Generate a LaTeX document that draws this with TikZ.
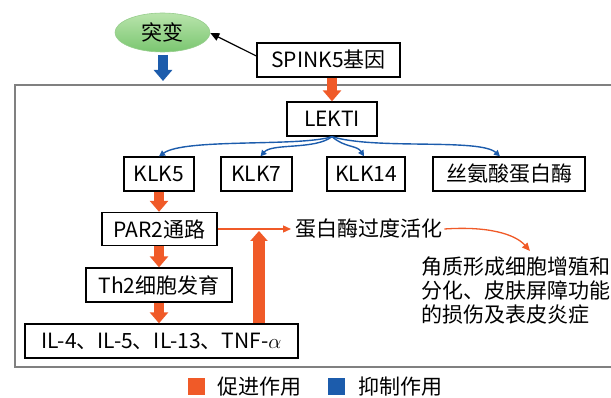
\documentclass[tikz,border=0pt]{standalone}
\usepackage{fontspec}
\setmainfont{Noto Sans CJK SC}
\usetikzlibrary{arrows.meta,shapes.geometric}
\definecolor{org}{RGB}{240,90,40}
\definecolor{blu}{RGB}{28,92,172}
\definecolor{frm}{RGB}{128,128,128}
\begin{document}
\begin{tikzpicture}[x=1pt,y=-1pt,
  every node/.style={font=\fontsize{21}{24}\selectfont},
  box/.style={draw, line width=1.3pt, minimum height=34pt, inner sep=0pt},
  fat/.style={line width=10pt, -{Triangle[length=11pt,width=18pt]}},
  thinorg/.style={org, line width=1.3pt, -{Triangle[length=8pt,width=7pt]}},
  thinblu/.style={blu, line width=1.4pt, -{Triangle[length=6pt,width=6pt]}}]
\useasboundingbox (0,0) rectangle (611,398);
\clip (0,0) rectangle (611,398);
% outer frame
\draw[frm, line width=1.5pt] (15,85) rectangle (680,367);
% nodes
\node[ellipse, minimum width=95pt, minimum height=39pt, inner sep=0pt,
      draw={rgb,255:red,150;green,205;blue,140}, line width=0.6pt,
      top color={rgb,255:red,185;green,228;blue,172},
      bottom color={rgb,255:red,122;green,198;blue,112}] (ell) at (162.5,32.5) {突变};
\node[box, minimum width=143pt] (spink) at (328.5,60) {SPINK5基因};
\node[box, minimum width=90pt] (lekti) at (332,119) {LEKTI};
\node[box, minimum width=70pt] (klk5) at (159,174) {KLK5};
\node[box, minimum width=71pt] (klk7) at (256.5,174) {KLK7};
\node[box, minimum width=78pt] (klk14) at (366,174) {KLK14};
\node[box, minimum width=152pt] (ser) at (509,174) {丝氨酸蛋白酶};
\node[box, minimum width=115pt, minimum height=33pt] (par2) at (159.5,229) {PAR2通路};
\node[box, minimum width=146pt] (th2) at (159,285) {Th2细胞发育};
\node[box, minimum width=273pt] (il) at (161.5,341) {IL-4、IL-5、IL-13、TNF-$\alpha$};
\node[anchor=west, inner sep=2pt] (act) at (293,229) {蛋白酶过度活化};
\node[anchor=west, inner sep=0pt] (res1) at (421,267) {角质形成细胞增殖和};
\node[anchor=west, inner sep=0pt] (res2) at (421,291) {分化、皮肤屏障功能};
\node[anchor=west, inner sep=0pt] (res3) at (421,315) {的损伤及表皮炎症};
% legend
\node[fill=org, minimum size=17pt, inner sep=0pt] (lgo) at (196.5,386.5) {};
\node[anchor=west, inner sep=0pt] (lgot) at (217,387) {促进作用};
\node[fill=blu, minimum size=17pt, inner sep=0pt] (lgb) at (336.5,386.5) {};
\node[anchor=west, inner sep=0pt] (lgbt) at (358,387) {抑制作用};
% coordinates
\coordinate (bluetip) at (163,81);
\coordinate (uptip) at (259,231);
\coordinate (curvetip) at (530,251);
% connectors
\draw[line width=1.2pt, -{Triangle[length=9pt,width=8pt]}] (spink.west |- 0,56) -- (ell.east |- 0,33) ;
\draw[fat, blu] (163,55) -- (bluetip);
\draw[fat, org] (lekti.north |- spink.south) -- (lekti.north);
\draw[thinblu] (lekti.south) .. controls (300,147) and (185,138) .. (klk5.north);
\draw[thinblu] (lekti.south) .. controls (315,150) and (272,143) .. ([xshift=4pt]klk7.north);
\draw[thinblu] (lekti.south) .. controls (345,148) and (357,145) .. ([xshift=-2pt]klk14.north);
\draw[thinblu] (lekti.south) .. controls (375,150) and (480,138) .. ([xshift=-9pt]ser.north);
\draw[fat, org] (klk5.south) -- (par2.north -| klk5.south);
\draw[fat, org] (par2.south -| klk5.south) -- (th2.north -| klk5.south);
\draw[fat, org] (th2.south -| klk5.south) -- (il.north -| klk5.south);
\draw[org, line width=12pt, -{Triangle[length=10pt,width=17pt]}] (il.north -| uptip) -- (uptip);
\draw[thinorg, shorten >=2pt] (par2.east) -- (act.west);
\draw[thinorg] (act.east) .. controls (488,226) and (515,234) .. (curvetip);
\end{tikzpicture}
\end{document}
